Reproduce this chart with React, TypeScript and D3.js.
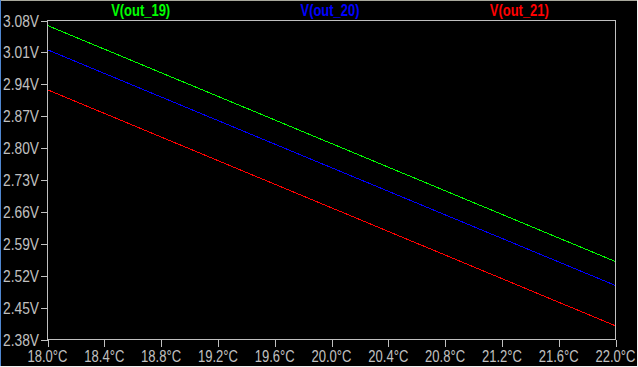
import React from "react";
import * as d3 from "d3";

const temps = [18.0, 20.0, 22.0];
const out19 = [3.069, 2.81, 2.551];
const out20 = [3.0157, 2.757, 2.4985];
const out21 = [2.928, 2.669, 2.41];
const seriesNames = ["V(out_19)", "V(out_20)", "V(out_21)"];
const seriesColors = ["#00ff00", "#0000ff", "#ff0000"];
const yTicks = [2.38, 2.45, 2.52, 2.59, 2.66, 2.73, 2.8, 2.87, 2.94, 3.01, 3.08];
const xTicks = [18.0, 18.4, 18.8, 19.2, 19.6, 20.0, 20.4, 20.8, 21.2, 21.6, 22.0];

const W = 638;
const H = 367;
const L = 47.5, R = 615.5, T = 20.5, B = 339.5;
const FONT = "'Liberation Sans', Arial, sans-serif";
const GRAY = "#c0c0c0";

export default function App() {
  const x = d3.scaleLinear().domain([18, 22]).range([L, R]);
  const y = d3.scaleLinear().domain([2.38, 3.08]).range([B, T]);
  const line = d3
    .line<[number, number]>()
    .x((d) => x(d[0]))
    .y((d) => y(d[1]));
  const series = [out19, out20, out21];
  const legendX = d3.scaleBand<number>().domain([0, 1, 2]).range([L, R]);

  return (
    <svg
      width={W}
      height={H}
      style={{ position: "fixed", left: 0, top: 0, display: "block" }}
    >
      <rect x={0} y={0} width={W} height={H} fill="#000" />
      <rect x={0} y={0} width={W} height={1} fill="#a8a89c" />
      <rect x={0} y={0} width={1} height={H} fill="#4f86d0" />
      <rect x={0} y={H - 1} width={W} height={1} fill="#f0f0f0" />
      <rect x={W - 1} y={0} width={1} height={H} fill="#f0f0f0" />
      {series.map((s, i) => (
        <path
          key={i}
          d={line(temps.map((t, j) => [t, s[j]] as [number, number])) || ""}
          fill="none"
          stroke={seriesColors[i]}
          strokeWidth={1}
          shapeRendering="crispEdges"
        />
      ))}
      <rect x={L} y={T} width={R - L} height={B - T} fill="none" stroke={GRAY} strokeWidth={1} shapeRendering="crispEdges" />
      {yTicks.map((v) => (
        <g key={"y" + v}>
          <line x1={L - 7} x2={L} y1={Math.round(y(v)) + 0.5} y2={Math.round(y(v)) + 0.5} stroke={GRAY} shapeRendering="crispEdges" />
          <text x={3} y={y(v) + 6} textLength={36} lengthAdjust="spacingAndGlyphs" fill={GRAY} fontFamily={FONT} fontSize={16}>
            {v.toFixed(2) + "V"}
          </text>
        </g>
      ))}
      {xTicks.map((v) => (
        <g key={"x" + v}>
          <line x1={Math.round(x(v)) + 0.5} x2={Math.round(x(v)) + 0.5} y1={B} y2={B + 7} stroke={GRAY} shapeRendering="crispEdges" />
          <text x={x(v) - 20} y={362} textLength={40} lengthAdjust="spacingAndGlyphs" fill={GRAY} fontFamily={FONT} fontSize={16}>
            {v.toFixed(1) + "°C"}
          </text>
        </g>
      ))}
      {seriesNames.map((n, i) => (
        <text
          key={n}
          x={(legendX(i) || 0) + legendX.bandwidth() / 2 - 31}
          y={16}
          textLength={59}
          lengthAdjust="spacingAndGlyphs"
          fill={seriesColors[i]}
          fontFamily={FONT}
          fontWeight="bold"
          fontSize={16}
        >
          {n}
        </text>
      ))}
    </svg>
  );
}
